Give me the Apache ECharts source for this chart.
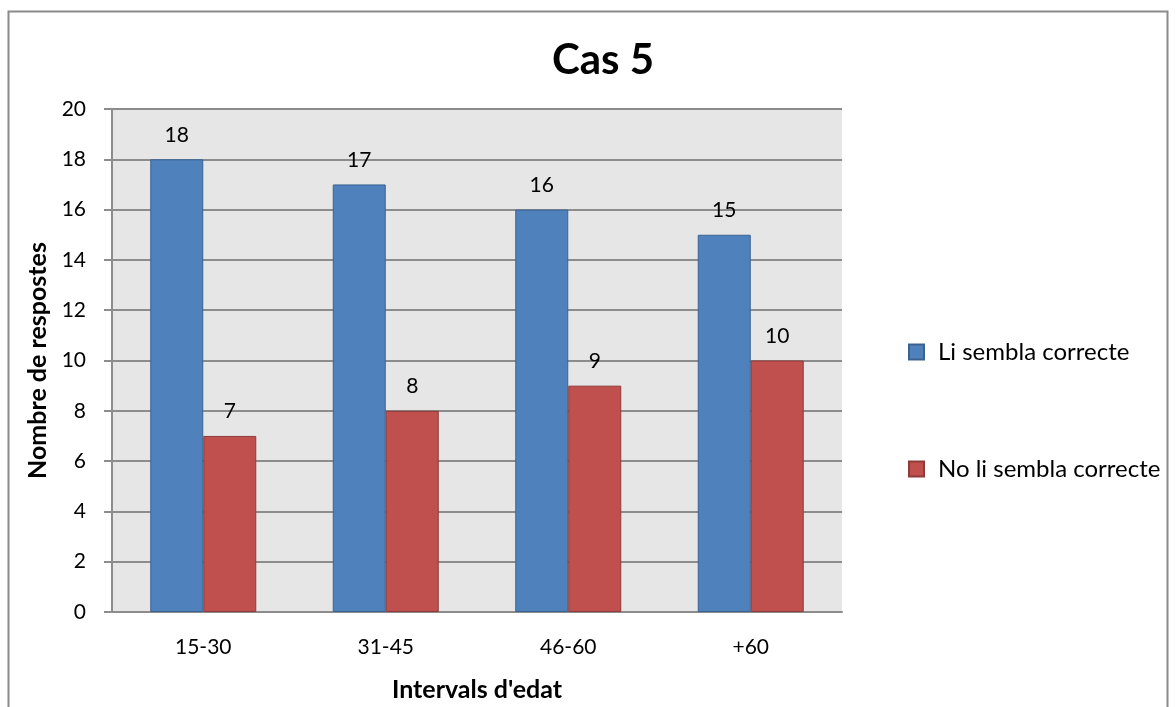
<!DOCTYPE html>
<html><head><meta charset="utf-8">
<script src="https://cdn.jsdelivr.net/npm/echarts@6/dist/echarts.min.js"></script>
<style>html,body{margin:0;padding:0;background:#fff}#c{width:1176px;height:707px}</style>
</head><body><div id="c"></div>
<script>
const categories = ['15-30', '31-45', '46-60', '+60'];
const seriesNames = ['Li sembla correcte', 'No li sembla correcte'];
const correcte = [18, 17, 16, 15];
const noCorrecte = [7, 8, 9, 10];
const FONT = "Lato, 'Open Sans', sans-serif";
const chart = echarts.init(document.getElementById('c'));
chart.setOption({
  backgroundColor: '#fff',
  animation: false,
  graphic: [{type:'rect', shape:{x:8.5,y:11.5,width:1159,height:700}, style:{fill:'none', stroke:'#8a8a8a', lineWidth:2}, z:-1}],
  title: {text:'Cas 5', left:598, top:34, textAlign:'center', textStyle:{fontFamily:FONT, fontSize:42, fontWeight:'bold', color:'#000'}},
  legend: {orient:'vertical', left:908, top:340, padding:0, itemGap:93, itemWidth:15, itemHeight:15, icon:'rect',
    textStyle:{fontFamily:FONT, fontSize:24, color:'#000', padding:[0,0,0,9]}, data: seriesNames},
  grid: {left:112, top:109, right:334, bottom:95, show:true, backgroundColor:'#e6e6e6', borderWidth:0},
  xAxis: {type:'category', data:categories, name:"Intervals d'edat", nameLocation:'middle', nameGap:65,
    nameTextStyle:{fontFamily:FONT, fontSize:25, fontWeight:'bold', color:'#000'},
    axisLine:{lineStyle:{color:'#8c8c8c', width:2}}, axisTick:{show:false},
    axisLabel:{fontFamily:FONT, fontSize:21, color:'#000', margin:25}},
  yAxis: {type:'value', min:0, max:20, interval:2, name:'Nombre de respostes', nameLocation:'middle', nameGap:62,
    nameTextStyle:{fontFamily:FONT, fontSize:25, fontWeight:'bold', color:'#000'},
    axisLine:{show:true, lineStyle:{color:'#8c8c8c', width:2}}, axisTick:{show:true, length:8, lineStyle:{color:'#8c8c8c', width:2}},
    splitLine:{lineStyle:{color:'#8c8c8c', width:2}},
    axisLabel:{fontFamily:FONT, fontSize:21, color:'#000', margin:26}},
  series: [
    {name:seriesNames[0], type:'bar', data:correcte, barWidth:53, barGap:'0%',
     itemStyle:{color:'#4f81bd', borderColor:'#3a6394', borderWidth:1},
     label:{show:true, position:'top', distance:14, fontFamily:FONT, fontSize:21, color:'#000'}},
    {name:seriesNames[1], type:'bar', data:noCorrecte, barWidth:53,
     itemStyle:{color:'#c0504d', borderColor:'#8e3b39', borderWidth:1},
     label:{show:true, position:'top', distance:14, fontFamily:FONT, fontSize:21, color:'#000'}}
  ]
});
</script></body></html>
